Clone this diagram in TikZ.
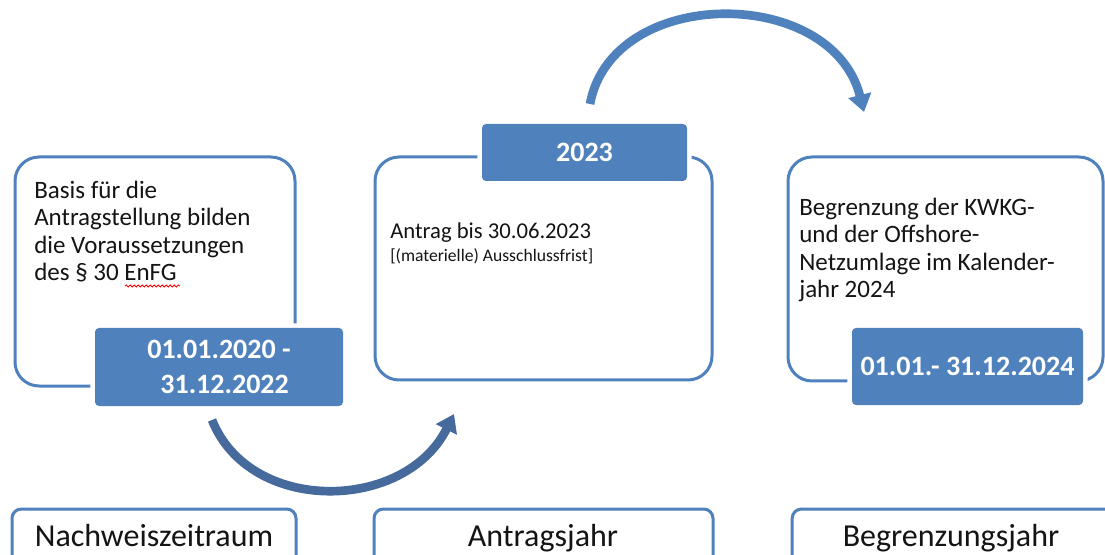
\documentclass[tikz,border=0pt]{standalone}
\usepackage{fontspec}
\setmainfont{Carlito}
\usetikzlibrary{arrows.meta,decorations.pathmorphing}
\definecolor{ublue}{RGB}{79,129,189}
\definecolor{ablue}{RGB}{70,106,156}
\definecolor{txt}{RGB}{20,20,20}
\tikzset{
  outbox/.style={draw=ublue,line width=2.25pt,rounded corners=18pt,fill=white},
  labbox/.style={draw=ublue,line width=2.25pt,rounded corners=7pt,fill=white},
  datebox/.style={fill=ublue,rounded corners=3pt,text=white,align=center,
    preaction={draw=white,line width=7pt,rounded corners=3pt},
    font=\bfseries\fontsize{21}{26}\selectfont},
  bodytext/.style={anchor=north west,inner sep=0pt,align=left,text=txt,
    font=\fontsize{18.75}{20.4}\selectfont},
  labtext/.style={anchor=base,inner sep=0pt,text=txt,font=\fontsize{24}{28}\selectfont},
  bigarrow/.style={line width=6.5pt,-{Triangle[width=17pt,length=13pt]}},
}
\begin{document}
\begin{tikzpicture}[x=0.75pt,y=-0.75pt]
\useasboundingbox (0,0) rectangle (1105,555);
\clip (0,0) rectangle (1105,555);

% outline boxes
\node[outbox,minimum width=210pt,minimum height=171.75pt] (b1) at (155,271.5) {};
\node[outbox,minimum width=252.75pt,minimum height=167.25pt] (b2) at (543.5,268.5) {};
\node[outbox,minimum width=236.25pt,minimum height=168pt] (b3) at (945.5,269) {};

% date boxes
\node[datebox,minimum width=186pt,minimum height=58.5pt] (d1) at (219,367) {01.01.2020 -\\ \hspace*{0.4em}31.12.2022};
\node[datebox,minimum width=153.75pt,minimum height=42.75pt] (d2) at (584.5,152.5) {2023};
\node[datebox,minimum width=173.25pt,minimum height=57.75pt] (d3) at (967.5,366.5) {01.01.- 31.12.2024};

% body texts
\node[bodytext] (t1) at (34,181) {Basis für die\\Antragstellung bilden\\die Voraussetzungen\\des § 30 EnFG};
\node[bodytext,anchor=base west,font=\fontsize{17}{20}\selectfont] (t2a) at (390,239) {Antrag bis 30.06.2023};
\node[bodytext,anchor=base west,font=\fontsize{13.2}{15}\selectfont] (t2b) at (390,262) {[(materielle) Ausschlussfrist]};
\node[bodytext] (t3) at (799,198) {Begrenzung der KWKG-\\und der Offshore-\\Netzumlage im Kalender-\\jahr 2024};

% spell-check squiggle
\coordinate (sq1) at (125,286);
\coordinate (sq2) at (180,286);
\draw[red,line width=0.6pt,decorate,decoration={snake,amplitude=0.8pt,segment length=3pt}] (sq1) -- (sq2);

% bottom label boxes
\node[labbox,minimum width=213pt,minimum height=68.25pt] (l1) at (154,554.5) {};
\node[labbox,minimum width=254.25pt,minimum height=68.25pt] (l2) at (543.5,554.5) {};
\node[labbox,minimum width=242pt,minimum height=68.25pt] (l3) at (953.5,554.5) {};
\node[labtext] (lt1) at (154,546) {Nachweiszeitraum};
\node[labtext] (lt2) at (543,546) {Antragsjahr};
\node[labtext] (lt3) at (951,546) {Begrenzungsjahr};

% arrows
\coordinate (a1s) at (212,420);
\coordinate (a1e) at (454,414);
\draw[bigarrow,draw=ablue] (a1s) .. controls (250,515) and (405,512) .. (a1e);
\coordinate (a2s) at (590,104);
\coordinate (a2e) at (864,112);
\draw[bigarrow,draw=ublue] (a2s) .. controls (612,-15) and (832,-15) .. (a2e);
\end{tikzpicture}
\end{document}
